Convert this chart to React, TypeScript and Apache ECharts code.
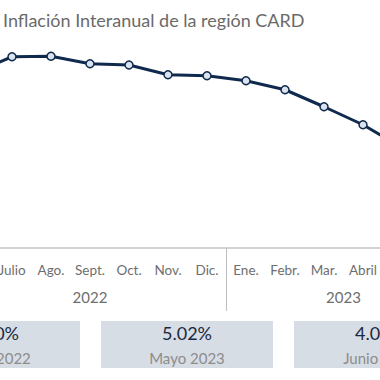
import React, { useEffect, useRef } from "react";
import * as echarts from "echarts";

const categories = ["Junio", "Julio", "Ago.", "Sept.", "Oct.", "Nov.", "Dic.", "Ene.", "Febr.", "Mar.", "Abril", "Mayo", "Junio"];
const inflation = [8.0, 8.65, 8.67, 8.37, 8.32, 7.93, 7.89, 7.69, 7.33, 6.65, 5.93, 5.02, 4.05];
const yearLabels = ["2022", "2023"];
const yearStart = [0, 7];
const yearEnd = [6, 12];
const boxValues = ["8.00%", "5.02%", "4.05%"];
const boxLabels = ["Junio 2022", "Mayo 2023", "Junio 2023"];
const title = "Inflación Interanual de la región CARD";

const FONT = "Lato, 'Open Sans', sans-serif";
const NAVY = "#0f2a4d";
const SHIFT = 100;

export default function App() {
  const ref = useRef<HTMLDivElement>(null);
  useEffect(() => {
    if (!ref.current) return;
    const chart = echarts.init(ref.current, null, { renderer: "svg" });
    chart.setOption({
      animation: false,
      backgroundColor: "#ffffff",
      textStyle: { fontFamily: FONT },
      grid: { left: SHIFT - 46.5, top: 48, width: 507, height: 200, containLabel: false, outerBoundsMode: "none" },
      xAxis: {
        type: "category",
        data: categories,
        boundaryGap: true,
        axisLine: { show: true, lineStyle: { color: "#c4c4c4", width: 1.5 } },
        axisTick: { show: false },
        axisLabel: { color: "#6e6e6e", fontSize: 13.5, margin: 15, fontFamily: FONT, interval: 0 },
        splitLine: { show: false },
      },
      yAxis: { type: "value", min: 1, max: 9, show: false, splitLine: { show: false } },
      series: [
        {
          type: "line",
          data: inflation,
          symbol: "circle",
          symbolSize: 8,
          lineStyle: { color: NAVY, width: 3 },
          itemStyle: { color: "#dbe3ef", borderColor: NAVY, borderWidth: 1.5 },
          clip: false,
        },
      ],
    });

    const px = (i: number) => chart.convertToPixel({ xAxisIndex: 0 }, i) as number;
    const graphics: any[] = [];
    graphics.push({
      type: "text",
      x: SHIFT + 3,
      y: 19.5,
      style: { text: title, fill: "#6a6a6a", fontSize: 18, fontFamily: FONT, verticalAlign: "middle" },
    });
    yearLabels.forEach((y, k) => {
      const cx = (px(yearStart[k]) + px(yearEnd[k])) / 2;
      graphics.push({
        type: "text",
        x: cx,
        y: 297,
        style: { text: y, fill: "#6e6e6e", fontSize: 15, fontFamily: FONT, align: "center", verticalAlign: "middle" },
      });
    });
    for (let k = 1; k < yearStart.length; k++) {
      const sx = (px(yearStart[k] - 1) + px(yearStart[k])) / 2;
      graphics.push({ type: "line", shape: { x1: sx, y1: 248, x2: sx, y2: 311 }, style: { stroke: "#bdbdbd", lineWidth: 1 } });
    }
    const boxW = 172;
    const boxGap = 21;
    const boxX0 = SHIFT - 92;
    boxValues.forEach((v, k) => {
      const bx = boxX0 + k * (boxW + boxGap);
      graphics.push({ type: "rect", shape: { x: bx, y: 321, width: boxW, height: 47 }, style: { fill: "#d7dde5" } });
      graphics.push({
        type: "text",
        x: bx + boxW / 2,
        y: 333,
        style: { text: v, fill: "#1b2a41", fontSize: 18, fontFamily: FONT, align: "center", verticalAlign: "middle" },
      });
      graphics.push({
        type: "text",
        x: bx + boxW / 2,
        y: 358,
        style: { text: boxLabels[k], fill: "#8c8c8c", fontSize: 15, fontFamily: FONT, align: "center", verticalAlign: "middle" },
      });
    });
    chart.setOption({ graphic: graphics });
    return () => chart.dispose();
  }, []);
  return (
    <div style={{ position: "fixed", left: 0, top: 0, width: 380, height: 380, overflow: "hidden", background: "#fff" }}>
      <div ref={ref} style={{ position: "absolute", left: -SHIFT, top: 0, width: 600, height: 380 }} />
    </div>
  );
}
